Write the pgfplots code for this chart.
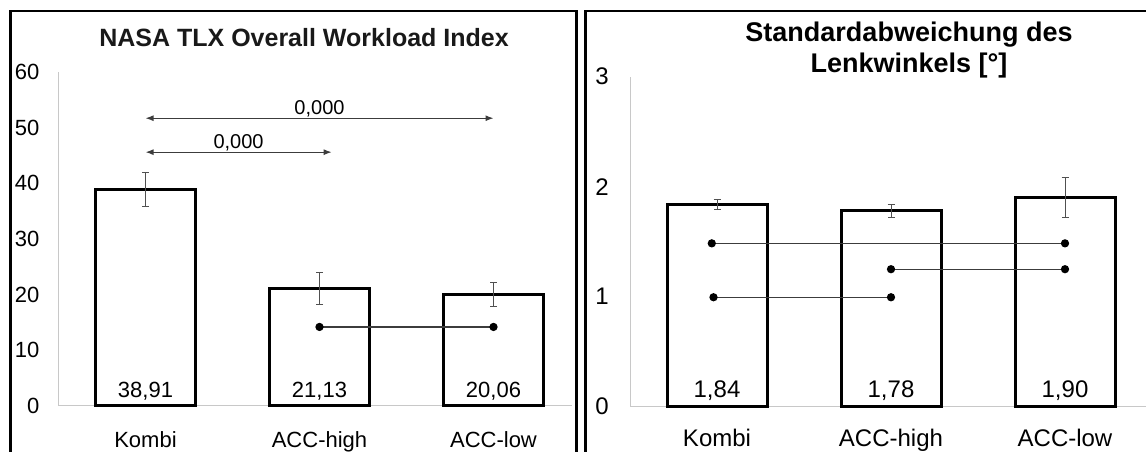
\documentclass[border=0pt]{standalone}
\usepackage{pgfplots}
\pgfplotsset{compat=1.18}
\usepackage{fontspec}
\setmainfont{Liberation Sans}
\usetikzlibrary{arrows.meta}

\definecolor{axgray}{RGB}{200,200,200}
\definecolor{errgray}{RGB}{80,80,80}
\definecolor{lngray}{RGB}{60,60,60}

\pgfplotsset{
  panel/.style={
    scale only axis, anchor=south west,
    axis x line=bottom, axis y line=left,
    axis line style={draw=axgray, line width=1pt, -},
    xtick={0,1,2}, xticklabels={Kombi,ACC-high,ACC-low},
    major tick length=0pt,
    tick style={draw=none},
    /pgf/number format/assume math mode=true,
    clip=false,
  },
  barstyle/.style={ybar, bar width=100pt, draw=black, fill=white, line width=3pt,
    error bars/.cd, y dir=both, y explicit,
    error bar style={errgray, line width=1pt},
    error mark options={errgray, line width=1pt, mark size=3.5pt, rotate=90}},
}

\begin{document}
\begin{tikzpicture}[x=1pt,y=1pt]
% panel frames
\draw[line width=2.5pt] (10.5,-20) -- (10.5,441) -- (576.5,441) -- (576.5,-20);
\draw[line width=2.5pt] (585.5,-20) -- (585.5,441) -- (1170,441);

% titles
\node[anchor=base, font=\bfseries\fontsize{25}{30}\selectfont, text=black!90] at (304,405.5) {NASA TLX Overall Workload Index};
\node[anchor=base, font=\bfseries\fontsize{27}{32}\selectfont] at (909,410) {Standardabweichung des};
\node[anchor=base, font=\bfseries\fontsize{27}{32}\selectfont] at (909,379) {Lenkwinkels [°]};

% ---------- left panel ----------
\begin{axis}[panel,
  at={(58.5pt,46pt)}, width=513.3pt, height=334pt,
  xmin=-0.5, xmax=2.45, ymin=0, ymax=60,
  ytick={0,10,...,60},
  xticklabel style={font=\fontsize{22}{26}\selectfont, anchor=base, inner sep=0pt, yshift=-42pt},
  yticklabel style={font=\fontsize{22}{26}\selectfont, anchor=east, inner sep=0pt, xshift=-19pt},
]
\addplot[barstyle] coordinates {(0,38.91) +- (0,3.0) (1,21.13) +- (0,2.9) (2,20.06) +- (0,2.15)};
\addplot[lngray, line width=1.2pt, {Latex[length=8pt,width=6pt]}-{Latex[length=8pt,width=6pt]}] coordinates {(0,51.7) (2,51.7)};
\addplot[lngray, line width=1.2pt, {Latex[length=8pt,width=6pt]}-{Latex[length=8pt,width=6pt]}] coordinates {(0,45.6) (1.07,45.6)};
\addplot[lngray, line width=1.2pt, mark=*, mark size=3.5pt, mark options={black, fill=black}] coordinates {(1,14.2) (2,14.2)};
\node[anchor=base, inner sep=0pt, font=\fontsize{20}{24}\selectfont] at (axis cs:1,51.7) [yshift=4pt] {0,000};
\node[anchor=base, inner sep=0pt, font=\fontsize{20}{24}\selectfont] at (axis cs:0.535,45.6) [yshift=4pt] {0,000};
\node[anchor=base, inner sep=0pt, font=\fontsize{22}{26}\selectfont] at (axis cs:0,0) [yshift=8pt] {38,91};
\node[anchor=base, inner sep=0pt, font=\fontsize{22}{26}\selectfont] at (axis cs:1,0) [yshift=8pt] {21,13};
\node[anchor=base, inner sep=0pt, font=\fontsize{22}{26}\selectfont] at (axis cs:2,0) [yshift=8pt] {20,06};
\end{axis}

% ---------- right panel ----------
\begin{axis}[panel,
  at={(630pt,45.3pt)}, width=522pt, height=330pt,
  xmin=-0.5, xmax=2.5, ymin=0, ymax=3,
  ytick={0,1,2,3},
  xticklabel style={font=\fontsize{24}{28}\selectfont, anchor=base, inner sep=0pt, yshift=-40pt},
  yticklabel style={font=\fontsize{24}{28}\selectfont, anchor=east, inner sep=0pt, xshift=-21pt},
]
\addplot[barstyle] coordinates {(0,1.84) +- (0,0.046) (1,1.78) +- (0,0.06) (2,1.90) +- (0,0.18)};
\addplot[lngray, line width=1.2pt, mark=*, mark size=3.5pt, mark options={black, fill=black}] coordinates {(-0.03,1.485) (2,1.485)};
\addplot[lngray, line width=1.2pt, mark=*, mark size=3.5pt, mark options={black, fill=black}] coordinates {(1,1.25) (2,1.25)};
\addplot[lngray, line width=1.2pt, mark=*, mark size=3.5pt, mark options={black, fill=black}] coordinates {(-0.02,0.995) (1,0.995)};
\node[anchor=base, inner sep=0pt, font=\fontsize{24}{28}\selectfont] at (axis cs:0,0) [yshift=9.5pt] {1,84};
\node[anchor=base, inner sep=0pt, font=\fontsize{24}{28}\selectfont] at (axis cs:1,0) [yshift=9.5pt] {1,78};
\node[anchor=base, inner sep=0pt, font=\fontsize{24}{28}\selectfont] at (axis cs:2,0) [yshift=9.5pt] {1,90};
\end{axis}

\pgfresetboundingbox
\path[use as bounding box] (0,0) rectangle (1146,452);
\end{tikzpicture}
\end{document}
